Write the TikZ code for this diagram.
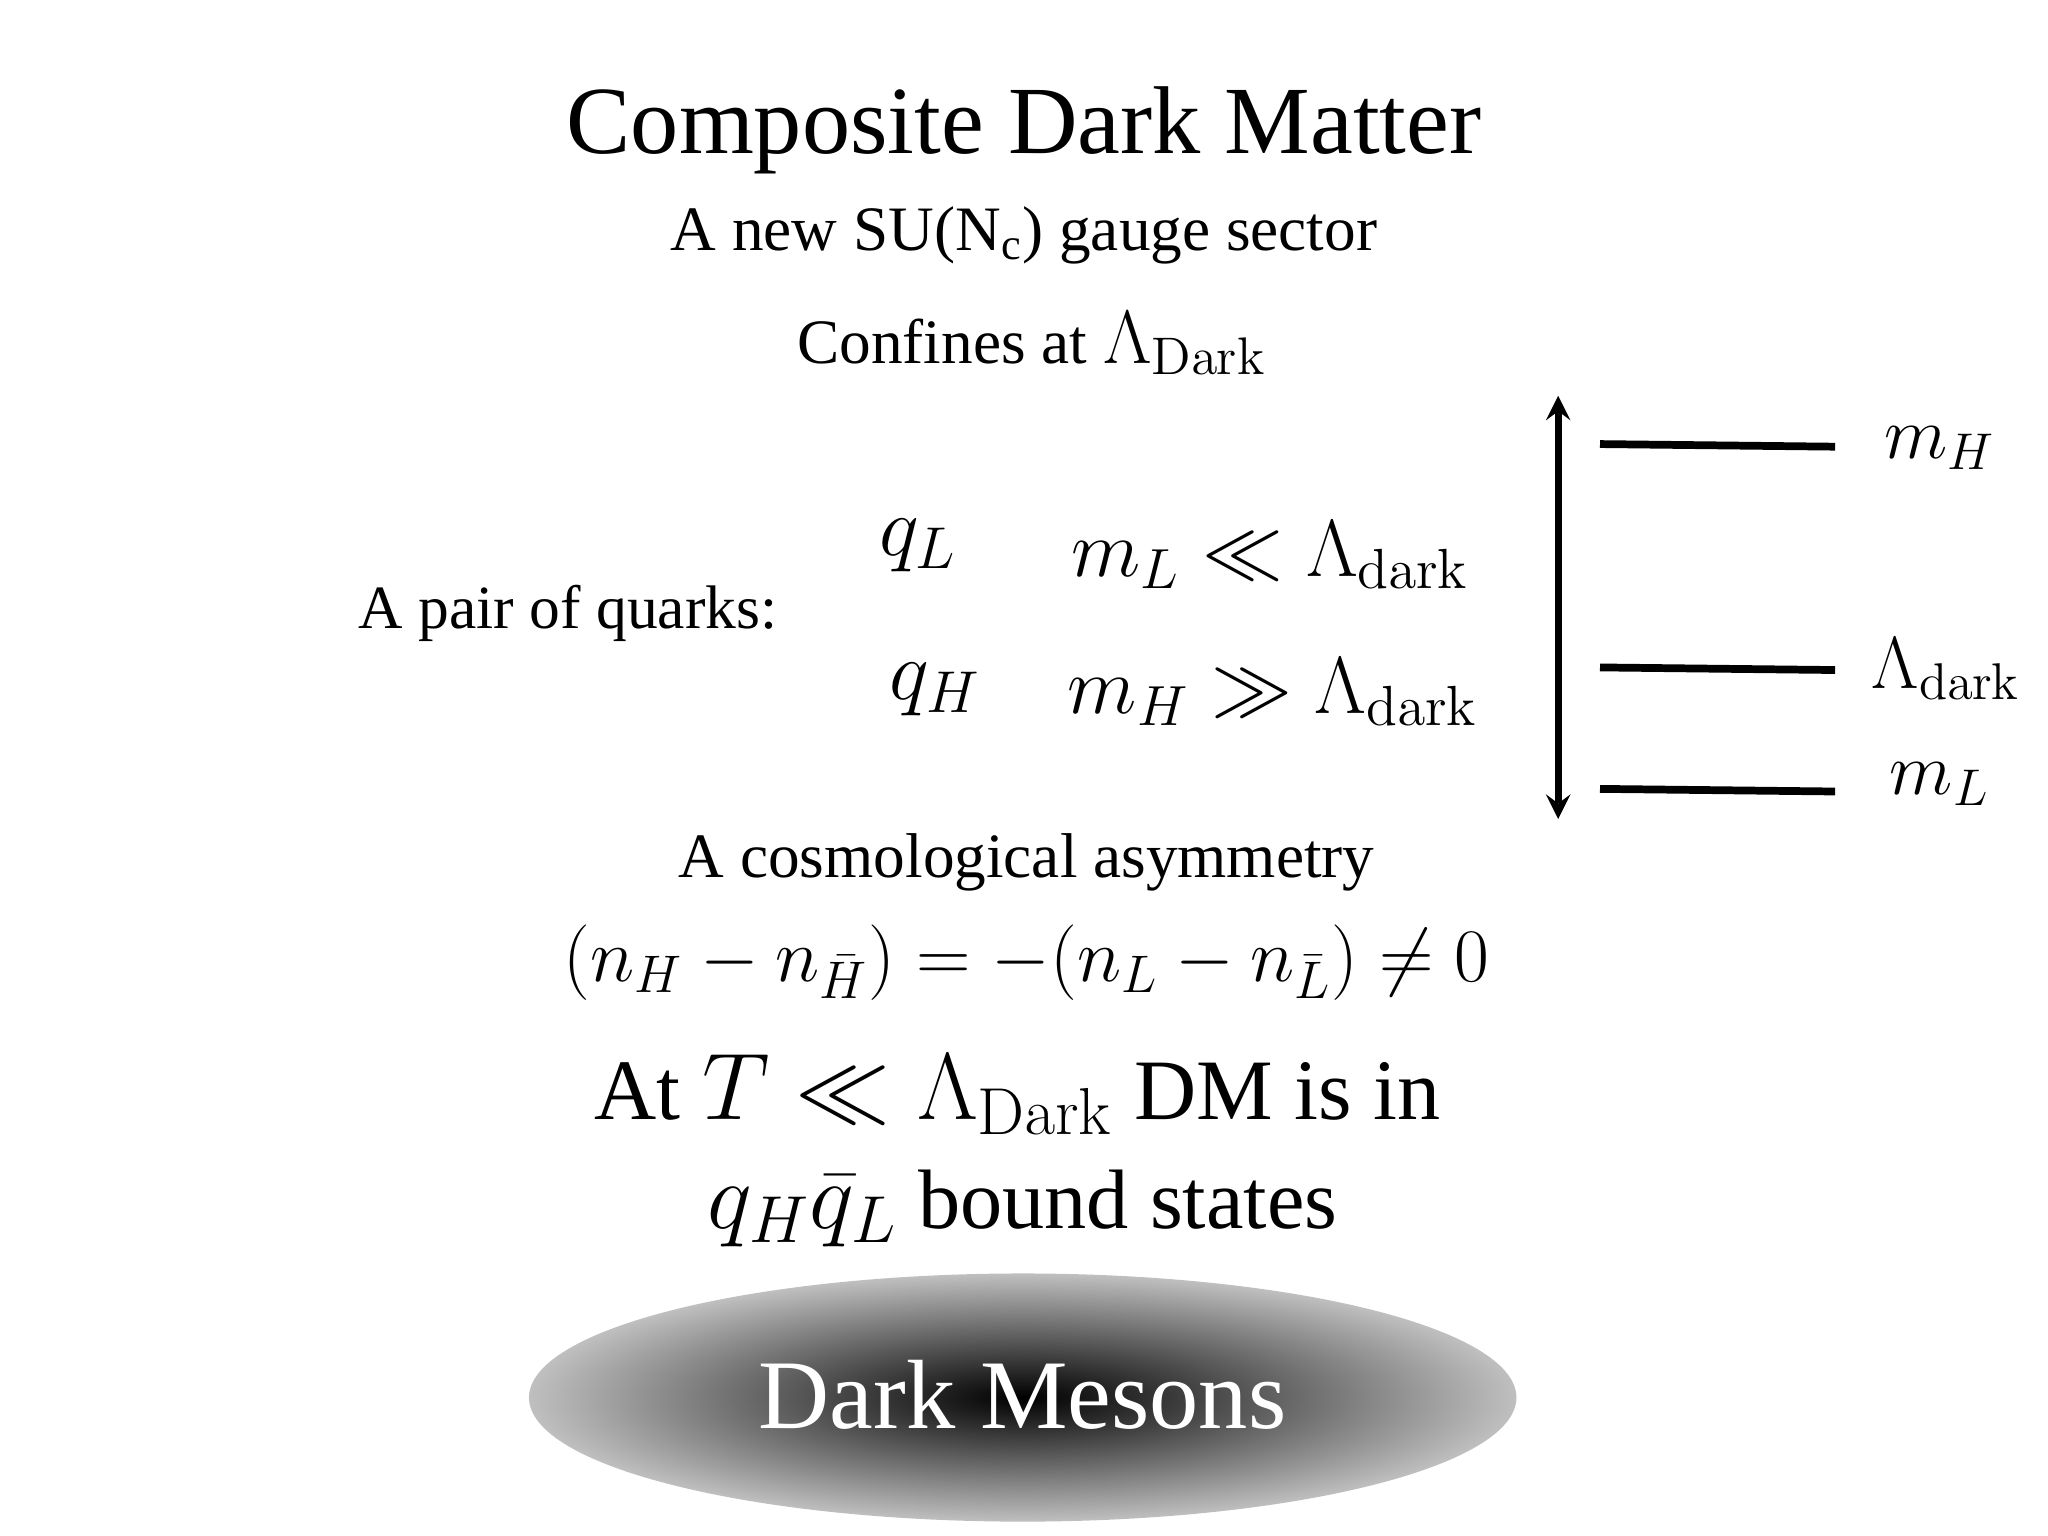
\RequirePackage{fix-cm}
\documentclass[tikz,border=0pt]{standalone}
\usepackage[no-math]{fontspec}
\setmainfont{Liberation Serif}
\usepackage{amsmath,amssymb}
\newcommand{\fs}[1]{\fontsize{#1}{#1}\selectfont}
\begin{document}
\begin{tikzpicture}[x=0.01306cm,y=-0.01306cm,
  lvl/.style={line width=2.2pt},
  txt/.style={inner sep=0pt,anchor=center}]
\useasboundingbox (0,0) rectangle (1568,1176);
\node[txt] (title) at (784,100) {\fs{27.4}Composite Dark Matter};
\node[txt] (sub) at (784,180) {\fs{18}A new SU(N\textsubscript{c}) gauge sector};
\node[txt] (conf) at (790,263) {\fs{18}Confines at {\fs{21.5}$\Lambda_{\mathrm{Dark}}$}};
\node[txt] (pair) at (435,470) {\fs{17.5}A pair of quarks:};
\node[txt] (qL) at (703,418) {\fs{24}$q_L$};
\node[txt] (qH) at (716,528) {\fs{24}$q_H$};
\node[txt,anchor=west] (mL) at (820,425) {\fs{23}$m_L\ll\Lambda_{\mathrm{dark}}$};
\node[txt,anchor=west] (mH) at (817,530) {\fs{23}$m_H\gg\Lambda_{\mathrm{dark}}$};
\coordinate (at) at (1193,303);
\coordinate (ab) at (1193,627);
\draw[line width=2pt,<->,>=stealth] (at) -- (ab);
\coordinate (h1) at (1225,340); \coordinate (h2) at (1405,342);
\coordinate (d1) at (1225,511); \coordinate (d2) at (1405,513);
\coordinate (l1) at (1225,604); \coordinate (l2) at (1405,606);
\draw[lvl] (h1) -- (h2);
\draw[lvl] (d1) -- (d2);
\draw[lvl] (l1) -- (l2);
\node[txt] (lh) at (1485,343) {\fs{21}$m_H$};
\node[txt] (ld) at (1490,512) {\fs{21}$\Lambda_{\mathrm{dark}}$};
\node[txt] (ll) at (1485,600) {\fs{21}$m_L$};
\node[txt] (cos) at (786,660) {\fs{18}A cosmological asymmetry};
\node[txt] (eq) at (786,737) {\fs{21.5}$(n_H-n_{\bar H})=-(n_L-n_{\bar L})\neq 0$};
\node[txt] (at1) at (779,838) {\fs{24.5}At {\fs{27}$T\ll\Lambda_{\mathrm{Dark}}$} DM is in};
\node[txt] (at2) at (783,925) {\fs{24}{\fs{27}$q_H\bar q_L$} bound states};
\shade[inner color=black,outer color=black!25] (783,1070) ellipse [x radius=378,y radius=95];
\node[txt,text=white] (dm) at (783,1068) {\fs{28}Dark Mesons};
\end{tikzpicture}
\end{document}
